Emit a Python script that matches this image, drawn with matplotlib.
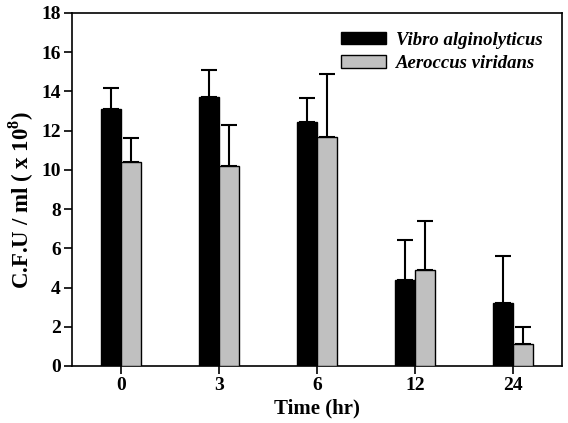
import matplotlib
matplotlib.use("Agg")
import matplotlib.pyplot as plt
import numpy as np

plt.rcParams['font.family'] = ['Liberation Serif', 'DejaVu Serif']
plt.rcParams['mathtext.fontset'] = 'custom'
plt.rcParams['mathtext.rm'] = 'Liberation Serif:bold'
plt.rcParams['mathtext.bf'] = 'Liberation Serif:bold'

categories = ['0', '3', '6', '12', '24']
vibro = [13.1, 13.7, 12.45, 4.4, 3.2]
vibro_err = [1.1, 1.4, 1.2, 2.0, 2.4]
aero = [10.4, 10.2, 11.7, 4.9, 1.1]
aero_err = [1.2, 2.1, 3.2, 2.5, 0.9]
series_names = ['Vibro alginolyticus', 'Aeroccus viridans']

fig = plt.figure(figsize=(5.68, 4.23), dpi=100)
ax = fig.add_axes([0.1268, 0.1348, 0.8626, 0.8345])

x = np.arange(len(categories))
w = 0.2
ax.bar(x - w/2, vibro, w, color='black', edgecolor='black', linewidth=1.0,
       label=series_names[0], zorder=3)
ax.bar(x + w/2, aero, w, color='#c0c0c0', edgecolor='black', linewidth=1.0,
       label=series_names[1], zorder=3)
ax.errorbar(x - w/2, vibro, yerr=[np.zeros(len(vibro)), vibro_err], fmt='none',
            ecolor='black', elinewidth=1.5, capsize=5.5, capthick=1.5, zorder=2)
ax.errorbar(x + w/2, aero, yerr=[np.zeros(len(aero)), aero_err], fmt='none',
            ecolor='black', elinewidth=1.5, capsize=5.5, capthick=1.5, zorder=2)

ax.set_xlim(-0.5, 4.5)
ax.set_ylim(0, 18)
ax.set_yticks(np.arange(0, 19, 2))
ax.set_xticks(x)
ax.set_xticklabels(categories)
for lab in ax.get_xticklabels() + ax.get_yticklabels():
    lab.set_fontweight('bold')
    lab.set_fontsize(14)
ax.tick_params(direction='out', length=6, width=1.2, pad=2)
for s in ax.spines.values():
    s.set_linewidth(1.2)

ax.set_xlabel('Time (hr)', fontsize=15, fontweight='bold', labelpad=3)
ax.set_ylabel(r'C.F.U / ml ( x 10$^{\mathbf{8}}$)', fontsize=16.5, fontweight='bold')
ax.yaxis.set_label_coords(-0.073, 0.47)

leg = ax.legend(loc='upper right', bbox_to_anchor=(0.995, 0.995), frameon=False,
                prop={'family': 'Liberation Serif', 'weight': 'bold', 'style': 'italic', 'size': 13.5},
                handlelength=2.4, handleheight=0.65, handletextpad=0.55, labelspacing=0.35)

fig.savefig('out.png', dpi=100)
